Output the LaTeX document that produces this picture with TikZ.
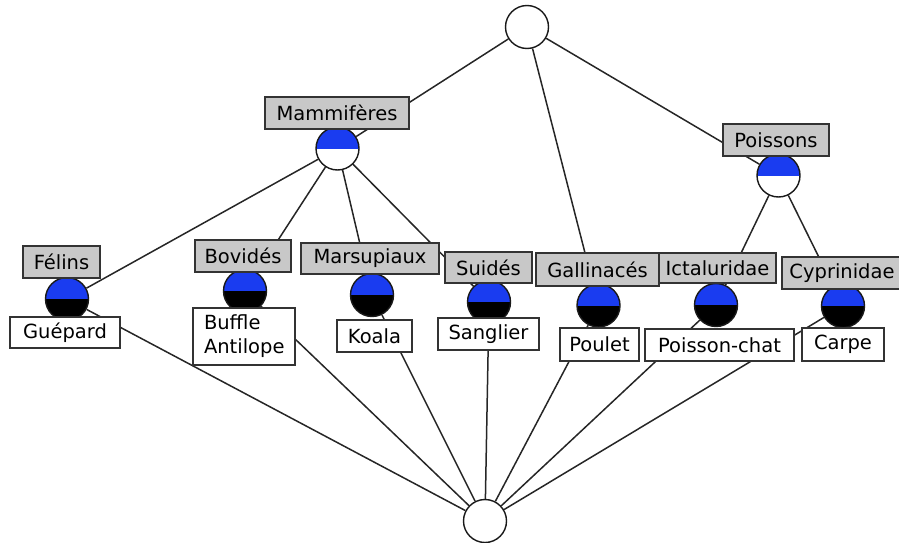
\documentclass[tikz,border=0pt]{standalone}
\usepackage{fontspec}
\setmainfont{DejaVu Sans}
\usetikzlibrary{backgrounds}
\definecolor{cblue}{HTML}{1A3CF0}
\definecolor{cgrey}{HTML}{C8C8C8}
\tikzset{
  circ/.style={circle, draw=black!90, line width=1.4pt, minimum size=43pt, inner sep=0pt},
  cw/.style={circ, fill=white},
  cb/.style={circ, fill=white, path picture={\fill[cblue] (path picture bounding box.north west) rectangle (path picture bounding box.east);}},
  ck/.style={circ, fill=black, path picture={\fill[cblue] (path picture bounding box.north west) rectangle (path picture bounding box.east);}},
  box/.style={draw=black!80, line width=1.3pt, inner sep=0pt, minimum height=32pt, font=\fontsize{19.5}{24}\selectfont},
  lab/.style={box, fill=cgrey},
  obj/.style={box, fill=white},
  edge/.style={draw=black!85, line width=1.5pt}
}
\begin{document}
\begin{tikzpicture}[x=1pt,y=-1pt]
\useasboundingbox (0,0) rectangle (899,543);
% circles
\node[cw] (top) at (527,27) {};
\node[cb] (mamc) at (337.5,148.5) {};
\node[cb] (poic) at (778.5,175.5) {};
\node[ck] (felc) at (67,299) {};
\node[ck] (bovc) at (245,291) {};
\node[ck] (marc) at (372,295) {};
\node[ck] (suic) at (489,302) {};
\node[ck] (galc) at (598.5,305.5) {};
\node[ck] (ictc) at (716,305) {};
\node[ck] (cypc) at (843,306) {};
\node[cw] (bot) at (485,521) {};
% attribute labels
\node[lab, minimum width=144pt] (mam) at (337,113) {Mammifères};
\node[lab, minimum width=106pt] (poi) at (776,140) {Poissons};
\node[lab, minimum width=77pt] (fel) at (61.5,262) {Félins};
\node[lab, minimum width=96pt] (bov) at (243,256) {Bovidés};
\node[lab, minimum width=138pt, minimum height=31pt] (mar) at (370,258.5) {Marsupiaux};
\node[lab, minimum width=87pt, minimum height=31pt] (sui) at (488.5,267.5) {Suidés};
\node[lab, minimum width=123pt, minimum height=33pt] (gal) at (597.5,269.5) {Gallinacés};
\node[lab, minimum width=117pt, minimum height=30pt] (ict) at (717.5,268) {Ictaluridae};
\node[lab, minimum width=120pt] (cyp) at (842,273) {Cyprinidae};
% object labels
\node[obj, minimum width=110pt, minimum height=31pt] (gue) at (65,332.5) {Guépard};
\node[obj, text width=80pt, inner xsep=11pt, minimum height=57pt, align=left] (buf) at (244,336.5) {Buffle\\Antilope};
\node[obj, minimum width=75pt] (koa) at (374.5,336) {Koala};
\node[obj, minimum width=101pt] (san) at (488.5,334) {Sanglier};
\node[obj, minimum width=79pt, minimum height=33pt] (pou) at (599.5,344.5) {Poulet};
\node[obj, minimum width=149pt] (pch) at (719.5,345) {Poisson-chat};
\node[obj, minimum width=82pt, minimum height=33pt] (car) at (843,344.5) {Carpe};
% edges
\begin{scope}[on background layer]
\draw[edge] (top) -- (mamc);
\draw[edge] (top) -- (galc);
\draw[edge] (top) -- (poic);
\draw[edge] (mamc) -- (felc);
\draw[edge] (mamc) -- (bovc);
\draw[edge] (mamc) -- (marc);
\draw[edge] (mamc) -- (suic);
\draw[edge] (poic) -- (ictc);
\draw[edge] (poic) -- (cypc);
\foreach \n in {felc,bovc,marc,suic,galc,ictc,cypc}
  \draw[edge] (\n) -- (bot);
\end{scope}
\end{tikzpicture}
\end{document}
